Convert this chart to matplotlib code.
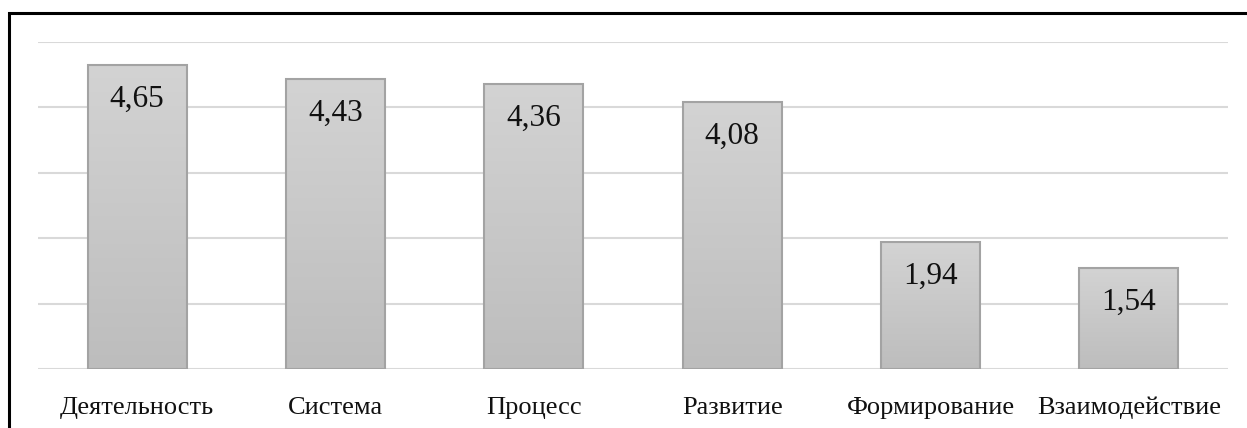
import numpy as np
import matplotlib
matplotlib.use("Agg")
import matplotlib.pyplot as plt
from matplotlib.patches import Rectangle
from matplotlib.colors import LinearSegmentedColormap

categories = ["Деятельность", "Система", "Процесс", "Развитие", "Формирование", "Взаимодействие"]
values = [4.65, 4.43, 4.36, 4.08, 1.94, 1.54]
labels = ["4,65", "4,43", "4,36", "4,08", "1,94", "1,54"]

plt.rcParams['font.family'] = ['Liberation Serif', 'DejaVu Serif']

W, H = 1247, 428
fig = plt.figure(figsize=(W / 100, H / 100), dpi=100)
ax = fig.add_axes([38 / W, 1 - 369 / H, (1228 - 38) / W, (369 - 42) / H])

x = np.arange(len(categories))
bars = ax.bar(x, values, width=0.5, color='#c8c8c8', edgecolor='#a0a0a0', linewidth=1.2, zorder=3)

cmap = LinearSegmentedColormap.from_list('g', ['#d3d3d3', '#bdbdbd'])
grad = np.linspace(0, 1, 256).reshape(-1, 1)
for b in bars:
    x0, y0 = b.get_x(), b.get_y()
    w, h = b.get_width(), b.get_height()
    im = ax.imshow(grad, cmap=cmap, aspect='auto', extent=[x0, x0 + w, y0, y0 + h],
                   origin='upper', zorder=3.5, interpolation='bilinear')
    im.set_clip_path(b)
    b2 = Rectangle((x0, y0), w, h, fill=False, edgecolor='#a3a3a3', linewidth=1.5, zorder=4)
    ax.add_patch(b2)

for xi, v, lab in zip(x, values, labels):
    ax.text(xi, v - 0.30, lab, ha='center', va='top', fontsize=22.5, color='#111111', zorder=5)

ax.set_xlim(-0.5, len(categories) - 0.5)
ax.set_ylim(0, 5)
ax.set_yticks([0, 1, 2, 3, 4, 5])
ax.yaxis.grid(True, color='#d9d9d9', linewidth=1.5, zorder=0)
ax.set_yticklabels([])
ax.tick_params(axis='y', length=0)
ax.set_xticks(x)
ax.set_xticklabels(categories, fontsize=19, color='#111111')
ax.tick_params(axis='x', length=0, pad=20)
for s in ax.spines.values():
    s.set_visible(False)
ax.set_axisbelow(True)

frame = Rectangle((8.5 / W, -0.1), 1.2, 1 - 13 / H + 0.1, transform=fig.transFigure,
                  fill=False, edgecolor='black', linewidth=2.2, clip_on=False)
fig.patches.append(frame)

fig.savefig('out.png', dpi=100)
